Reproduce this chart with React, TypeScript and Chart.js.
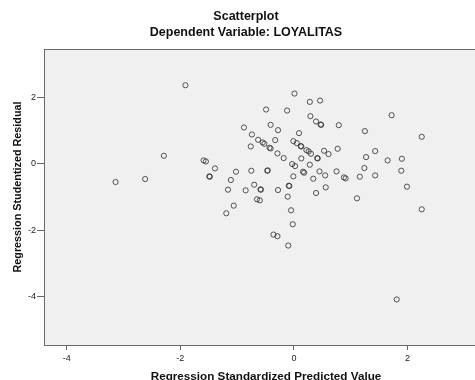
import React, { useEffect, useRef } from 'react';
import { Chart, registerables } from 'chart.js';

Chart.register(...registerables);

const chartTitle = 'Scatterplot';
const chartSubtitle = 'Dependent Variable: LOYALITAS';
const xTitle = 'Regression Standardized Predicted Value';
const yTitle = 'Regression Studentized Residual';

const xTicks: number[] = [-4, -2, 0, 2];
const yTicks: number[] = [-4, -2, 0, 2];

const predicted: number[] = [
  -3.14, -2.62, -2.29, -1.91, -1.59, -1.55, -1.49, -1.48, -1.39, -1.19,
  -1.16, -1.11, -1.06, -1.02, -0.88, -0.85, -0.76, -0.75, -0.74, -0.70,
  -0.65, -0.60, -0.63, -0.59, -0.58, -0.55, -0.52, -0.43, -0.41, -0.49,
  -0.46, -0.47, -0.41, -0.36, -0.29, -0.33, -0.29, -0.28, -0.28, -0.18,
  -0.12, -0.11, -0.10, -0.09, -0.08, -0.05, -0.02, -0.01, 0.05, -0.03,
  0.02, -0.01, 0.01, 0.09, 0.12, 0.13, 0.13, 0.16, 0.18, 0.22,
  0.26, 0.30, 0.28, 0.28, 0.29, 0.34, 0.39, 0.47, 0.48, 0.39,
  0.41, 0.42, 0.45, 0.46, 0.53, 0.55, 0.56, 0.61, 0.75, 0.77,
  0.79, 0.88, 0.91, 1.11, 1.16, 1.24, 1.25, 1.27, 1.43, 1.43,
  1.65, 1.72, 1.81, 1.89, 1.90, 1.99, 2.25, 2.25,
];

const residual: number[] = [
  -0.55, -0.46, 0.24, 2.36, 0.10, 0.07, -0.38, -0.39, -0.14, -1.49,
  -0.78, -0.49, -1.26, -0.24, 1.09, -0.80, 0.52, -0.21, 0.88, -0.63,
  -1.07, -1.10, 0.72, -0.77, -0.78, 0.64, 0.60, 0.48, 0.46, 1.63,
  -0.20, -0.21, 1.17, -2.13, -2.18, 0.71, 0.31, 1.01, -0.79, 0.17,
  1.60, -0.99, -2.46, -0.66, -0.67, -1.40, -1.82, 0.68, 0.62, -0.01,
  -0.07, -0.38, 2.11, 0.92, 0.53, 0.52, 0.16, -0.24, -0.27, 0.41,
  0.37, 0.30, 1.86, -0.03, 1.43, -0.45, 1.27, 1.18, 1.17, -0.88,
  0.17, 0.16, -0.23, 1.90, 0.39, -0.35, -0.71, 0.29, -0.23, 0.45,
  1.16, -0.41, -0.44, -1.04, -0.39, -0.13, 0.98, 0.20, 0.38, -0.35,
  0.10, 1.46, -4.08, -0.21, 0.15, -0.69, 0.81, -1.37,
];

const FONT = '"Liberation Sans", Arial, sans-serif';

const framePlugin = {
  id: 'spssFrame',
  beforeDraw(chart: any) {
    const { ctx, chartArea } = chart;
    ctx.save();
    ctx.fillStyle = '#f0f0f0';
    ctx.fillRect(chartArea.left, chartArea.top, chart.width - chartArea.left, chartArea.bottom - chartArea.top);
    ctx.restore();
  },
  afterDraw(chart: any) {
    const { ctx, chartArea } = chart;
    ctx.save();
    ctx.strokeStyle = '#6a6a6a';
    ctx.lineWidth = 1;
    ctx.beginPath();
    ctx.moveTo(chartArea.left, chartArea.top + 0.5);
    ctx.lineTo(chart.width, chartArea.top + 0.5);
    ctx.moveTo(chartArea.right, chartArea.bottom + 0.5);
    ctx.lineTo(chart.width, chartArea.bottom + 0.5);
    ctx.stroke();

    ctx.fillStyle = '#111';
    ctx.textAlign = 'center';
    ctx.textBaseline = 'alphabetic';
    ctx.font = `bold 12.5px ${FONT}`;
    ctx.fillText(chartTitle, 246, 20);
    ctx.fillText(chartSubtitle, 246, 36);

    ctx.font = `bold 11.7px ${FONT}`;
    ctx.fillText(xTitle, 266, 380);

    ctx.save();
    ctx.translate(21, 187);
    ctx.rotate(-Math.PI / 2);
    ctx.font = `bold 10.8px ${FONT}`;
    ctx.fillText(yTitle, 0, 0);
    ctx.restore();
    ctx.restore();
  },
};

export default function App() {
  const ref = useRef<HTMLCanvasElement | null>(null);

  useEffect(() => {
    if (!ref.current) return;
    const points = predicted.map((x, i) => ({ x, y: residual[i] }));
    const chart = new Chart(ref.current, {
      type: 'scatter',
      data: {
        datasets: [
          {
            data: points,
            pointRadius: 2.6,
            pointBorderWidth: 1,
            pointBorderColor: 'rgba(45,45,45,0.8)',
            pointBackgroundColor: 'rgba(0,0,0,0)',
          },
        ],
      },
      options: {
        responsive: false,
        animation: false,
        layout: { padding: { top: 49, left: 0, right: 0, bottom: 0 } },
        plugins: {
          legend: { display: false },
          tooltip: { enabled: false },
          title: { display: false },
        },
        scales: {
          x: {
            type: 'linear',
            min: -4.4,
            max: 3.1,
            afterBuildTicks: (s: any) => {
              s.ticks = xTicks.map((v) => ({ value: v }));
            },
            afterFit: (s: any) => {
              s.height = 35;
            },
            grid: { drawOnChartArea: false, drawTicks: true, tickLength: 5, color: '#666' },
            border: { display: true, color: '#6a6a6a' },
            ticks: {
              font: { family: FONT, size: 9 },
              color: '#222',
              padding: 3,
              maxRotation: 0,
              callback: (v: any) => String(v),
            },
          },
          y: {
            type: 'linear',
            min: -5.45,
            max: 3.45,
            afterBuildTicks: (s: any) => {
              s.ticks = yTicks.map((v) => ({ value: v }));
            },
            afterFit: (s: any) => {
              s.width = 44;
            },
            grid: { drawOnChartArea: false, drawTicks: true, tickLength: 7, color: '#666' },
            border: { display: true, color: '#6a6a6a' },
            ticks: {
              font: { family: FONT, size: 9 },
              color: '#222',
              padding: 1,
              callback: (v: any) => String(v),
            },
          },
        },
      },
      plugins: [framePlugin],
    });
    return () => chart.destroy();
  }, []);

  return (
    <div style={{ position: 'absolute', left: 0, top: 0, width: 475, height: 380, background: '#fff', overflow: 'hidden' }}>
      <canvas ref={ref} width={475} height={380} style={{ display: 'block', width: 475, height: 380 }} />
    </div>
  );
}
